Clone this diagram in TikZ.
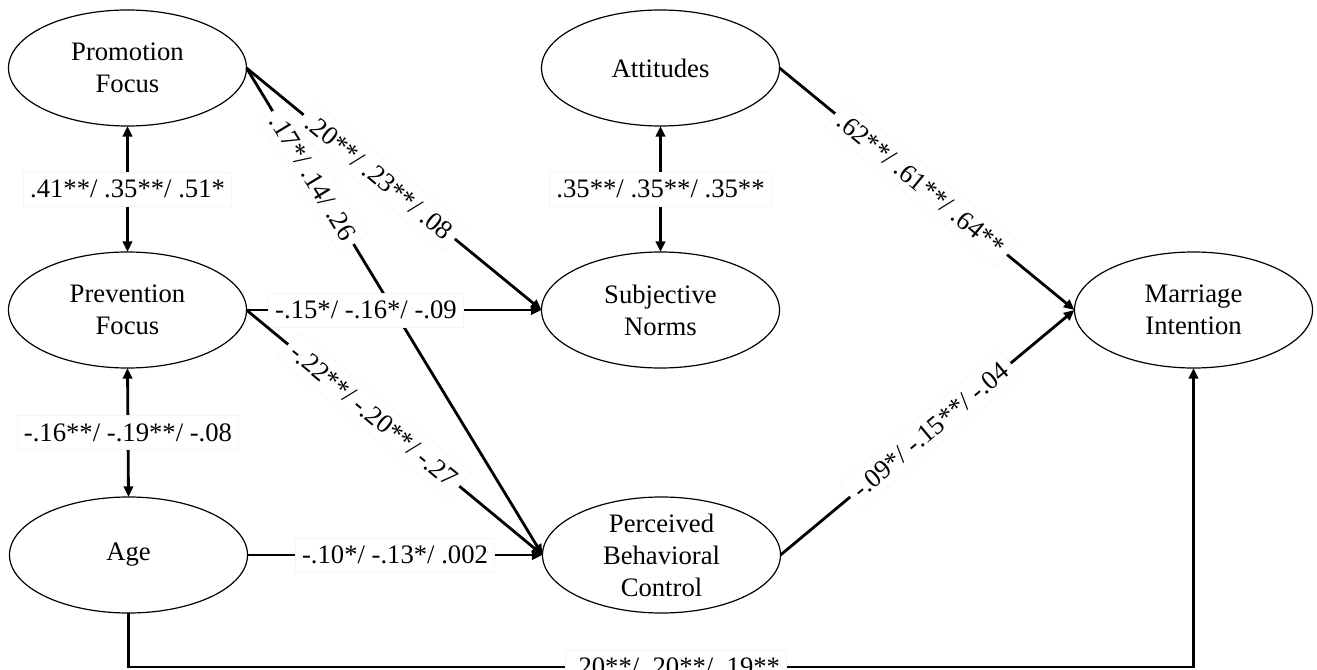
\documentclass[tikz,border=0pt]{standalone}
\usepackage{fontspec}
\setmainfont{Liberation Serif}
\usetikzlibrary{arrows.meta,shapes.geometric}
\begin{document}
\begin{tikzpicture}[x=0.75pt,y=-0.75pt,
  ell/.style={draw, ellipse, line width=0.9pt, minimum width=178.5pt, minimum height=87pt, inner sep=0pt, outer sep=0pt},
  ttl/.style={align=center, font=\fontsize{20}{24}\selectfont, inner sep=0pt},
  conn/.style={line width=2.1pt, -{Triangle[length=8pt,width=7pt]}},
  dbl/.style={line width=2.1pt, {Triangle[length=8pt,width=7pt]}-{Triangle[length=8pt,width=7pt]}},
  lbl/.style={fill=white, draw=black!4, line width=0.4pt, inner xsep=5pt, inner ysep=6pt, font=\fontsize{20}{24}\selectfont}
]
\useasboundingbox (0,0) rectangle (1317,670);

\node[ell, label={[ttl]center:{Promotion\\Focus}}] (prom) at (127.5,68) {};
\node[ell, label={[ttl]center:{Prevention\\Focus}}] (prev) at (127.5,310) {};
\node[ell, label={[ttl]center:{Age}}] (age) at (128.5,555) {};
\node[ell, label={[ttl]center:{Attitudes}}] (att) at (660.5,68) {};
\node[ell, label={[ttl]center:{Subjective\\Norms}}] (sn) at (660.5,310) {};
\node[ell, label={[ttl]center:{Perceived\\Behavioral\\Control}}] (pbc) at (661.5,555) {};
\node[ell, label={[ttl]center:{Marriage\\Intention}}] (mi) at (1193.5,310) {};

\draw[conn] (prom.east) -- node[lbl, sloped, pos=0.225] {.17*/ .14/ .26} (pbc.west);
\draw[conn] (prom.east) -- node[lbl, sloped, pos=0.45] {.20**/ .23**/ .08} (sn.west);
\draw[conn] (prev.east) -- node[lbl, pos=0.405] {-.15*/ -.16*/ -.09} (sn.west);
\draw[conn] (prev.east) -- node[lbl, sloped, pos=0.43] {-.22**/ -.20**/ -.27} (pbc.west);
\draw[conn] (age.east) -- node[lbl, pos=0.5] {-.10*/ -.13*/ .002} (pbc.west);
\draw[conn] (att.east) -- node[lbl, sloped, pos=0.48] {.62**/ .61**/ .64**} (mi.west);
\draw[conn] (pbc.east) -- node[lbl, sloped, pos=0.51] {-.09*/ -.15**/ -.04} (mi.west);

\draw[dbl] (prom.south) -- node[lbl] {.41**/ .35**/ .51*} (prev.north);
\draw[dbl] (att.south) -- node[lbl] {.35**/ .35**/ .35**} (sn.north);
\draw[dbl] (prev.south) -- node[lbl] {-.16**/ -.19**/ -.08} (age.north);

\draw[conn] (age.south) -- ++(0,54) coordinate (corner) -| node[lbl, pos=0.257] {.20**/ .20**/ .19**} (mi.south);
\end{tikzpicture}
\end{document}
